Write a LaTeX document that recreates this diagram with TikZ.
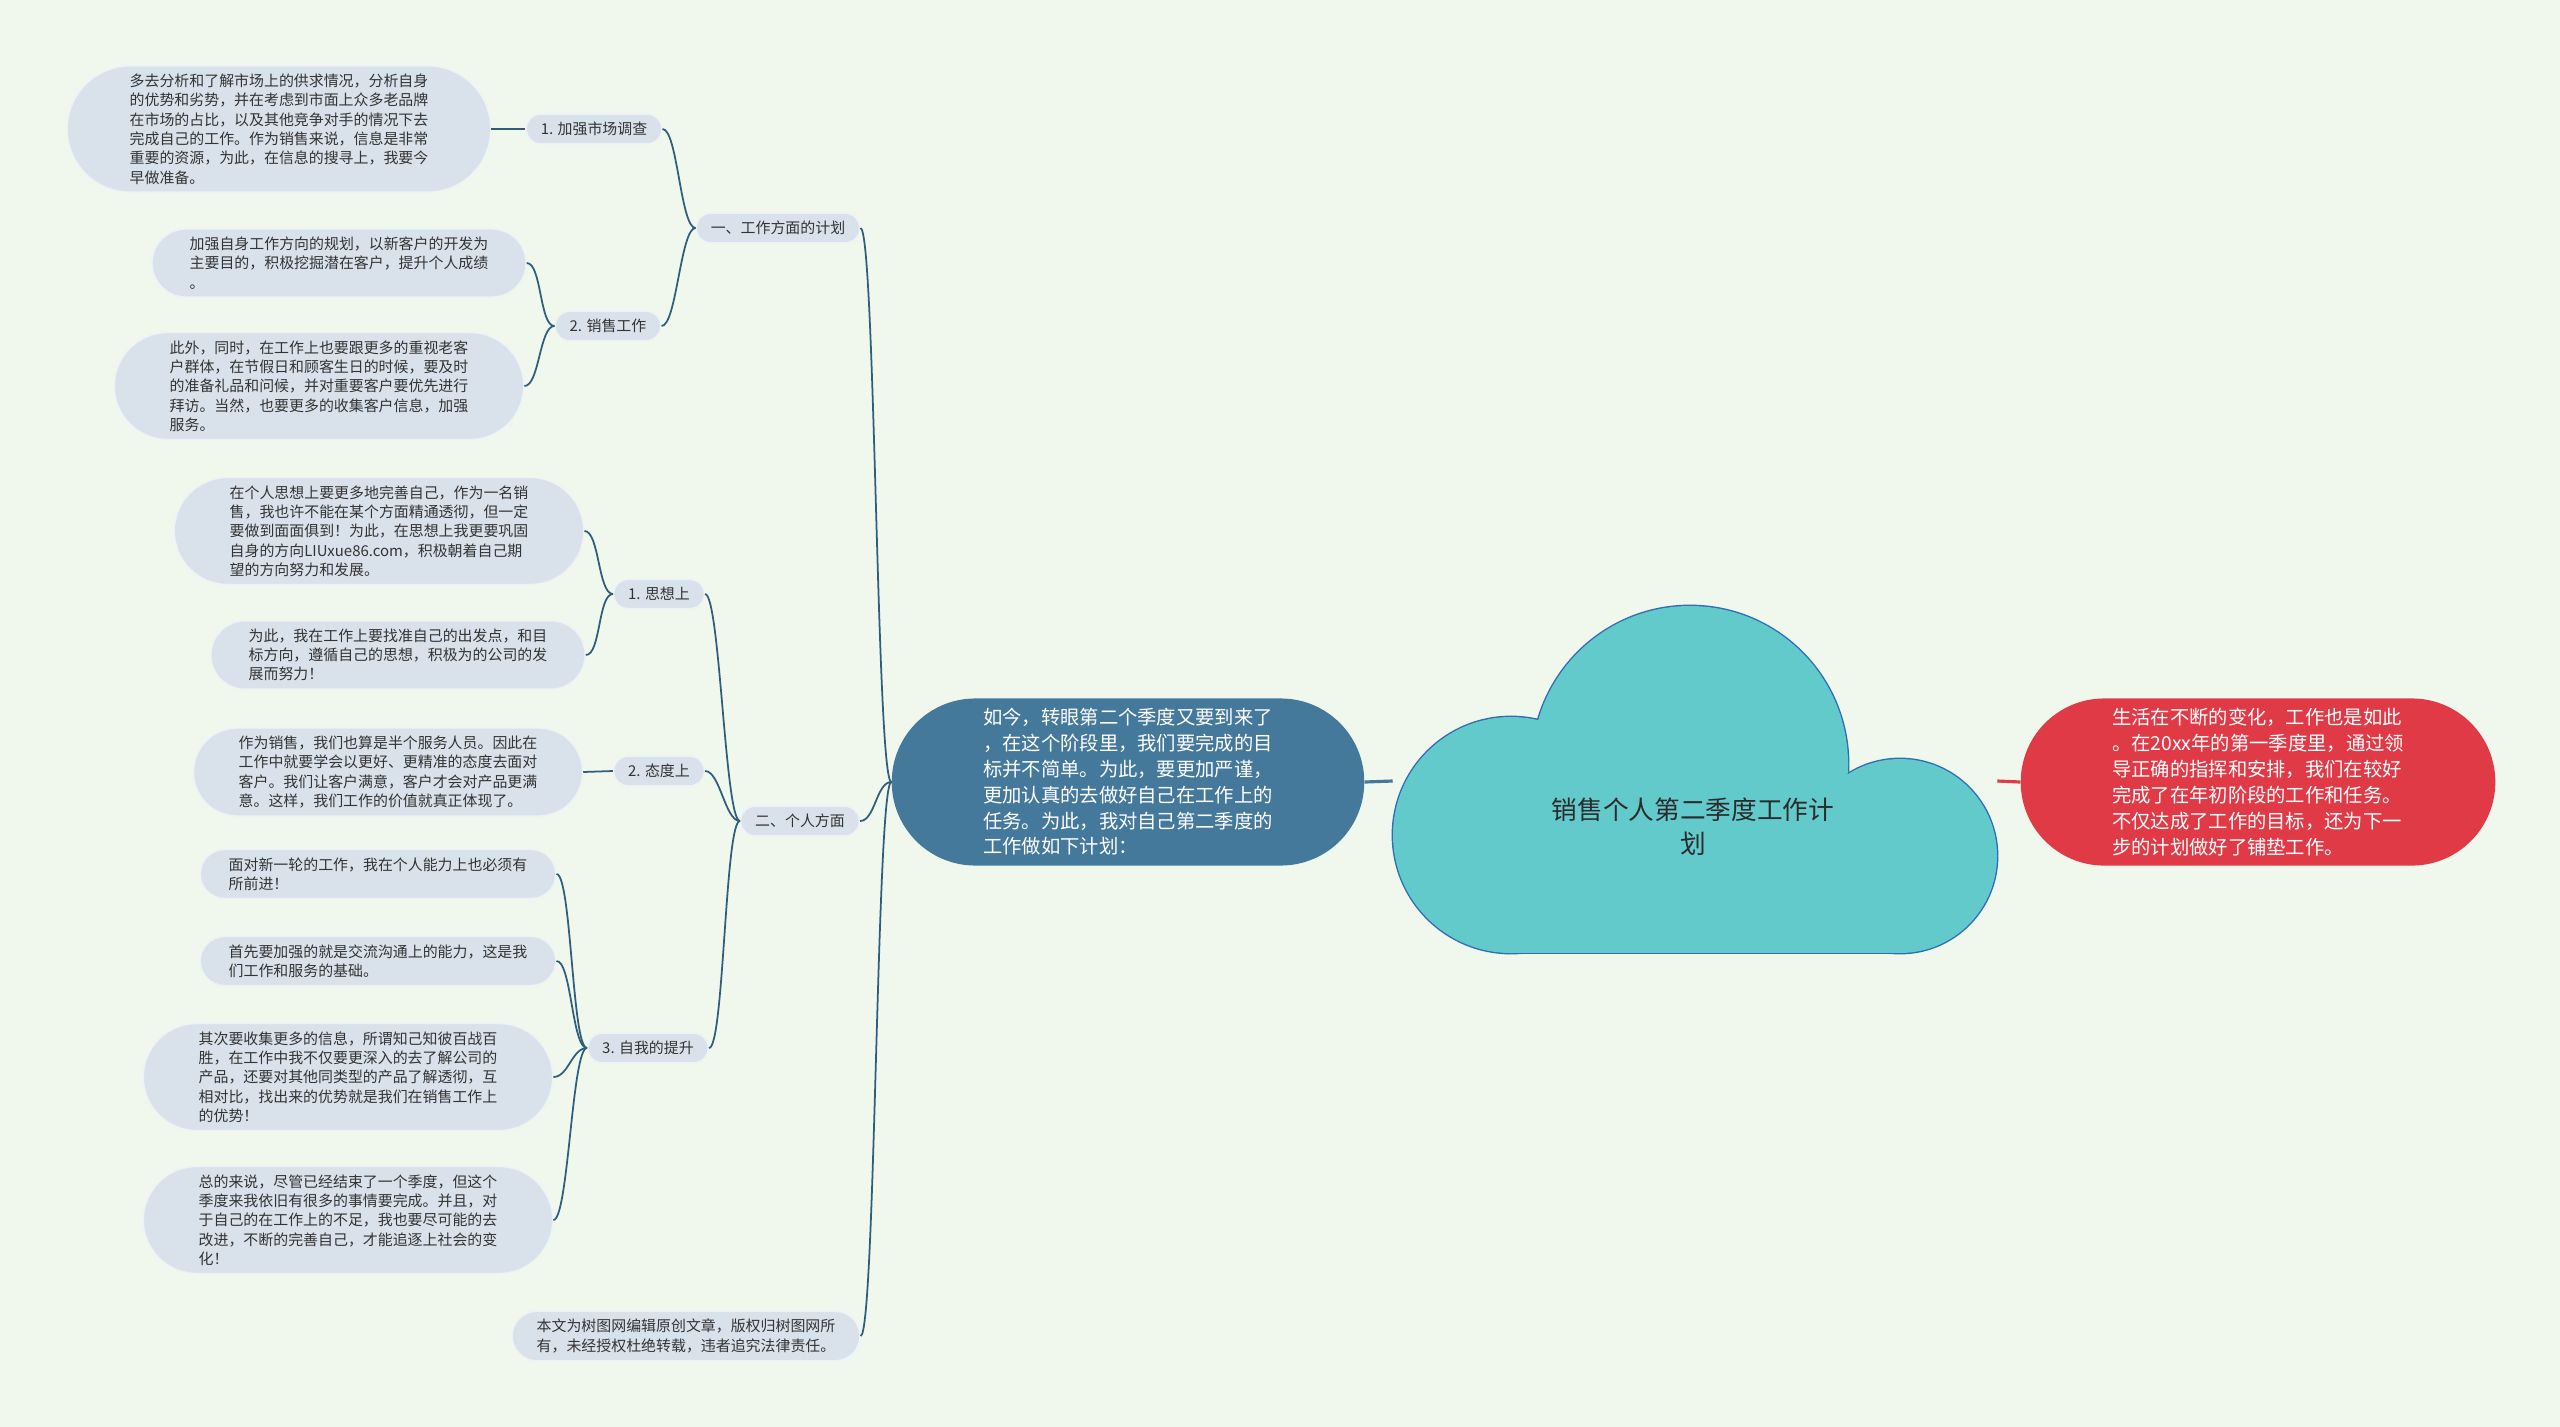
\documentclass[tikz,border=0pt]{standalone}
\usepackage{fontspec}
\setmainfont{Noto Sans CJK SC}
\usetikzlibrary{shapes.misc}
\definecolor{bgcol}{HTML}{F0F8EE}
\definecolor{leafcol}{HTML}{D9E2EB}
\definecolor{txtcol}{HTML}{333333}
\definecolor{linkcol}{HTML}{2F5D7C}
\definecolor{introcol}{HTML}{45799B}
\definecolor{sumcol}{HTML}{E03A47}
\definecolor{cloudcol}{HTML}{63CACC}
\definecolor{cloudline}{HTML}{2F6DB5}

\begin{document}
\begin{tikzpicture}[x=0.02cm,y=-0.02cm,
    leaf/.style={rounded rectangle,fill=leafcol,draw=white!55!leafcol,line width=0.8pt,
        text=txtcol,font=\fontsize{8.5}{11}\selectfont,align=left,inner xsep=17pt,inner ysep=4.5pt},
    short/.style={leaf,inner xsep=12.5pt},
    topic/.style={leaf,align=center,inner xsep=7.3pt},
    main/.style={rounded rectangle,text=white,font=\fontsize{11}{14.7}\selectfont,
        align=left,inner xsep=27pt,inner ysep=5.7pt},
    link/.style={draw=linkcol,line width=1pt},
    trunk/.style={line width=1.8pt},
    puff/.style={draw=cloudline,fill=cloudline,line width=1.6pt}]
    \fill[bgcol] (0,0) rectangle (2560,1427);

    \path[puff] (1690,764) circle (158);
    \path[puff] (1511,835) circle (118);
    \path[puff] (1900,856) circle (97);
    \path[puff] (1511,800) rectangle (1900,953);
    \fill[cloudcol] (1690,764) circle (158);
    \fill[cloudcol] (1511,835) circle (118);
    \fill[cloudcol] (1900,856) circle (97);
    \fill[cloudcol] (1511,800) rectangle (1900,953);
    \node[inner sep=0pt,minimum width=12.08cm,minimum height=6.88cm] (root) at (1695,781) {};
    \node[text=txtcol!85!black,font=\fontsize{14.6}{19.5}\selectfont,align=center] (title) at (1693,827) {销售个人第二季度工作计\\划};

    \node[main,fill=introcol] (intro) at (1128,782) {如今，转眼第二个季度又要到来了\\，在这个阶段里，我们要完成的目\\标并不简单。为此，要更加严谨，\\更加认真的去做好自己在工作上的\\任务。为此，我对自己第二季度的\\工作做如下计划：};
    \node[main,fill=sumcol] (summary) at (2258,782) {生活在不断的变化，工作也是如此\\。在20xx年的第一季度里，通过领\\导正确的指挥和安排，我们在较好\\完成了在年初阶段的工作和任务。\\不仅达成了工作的目标，还为下一\\步的计划做好了铺垫工作。};

    \node[topic] (work) at (778,228) {一、工作方面的计划};
    \node[topic] (personal) at (800,821) {二、个人方面};
    \node[leaf,inner xsep=10.2pt] (notice) at (686,1336) {本文为树图网编辑原创文章，版权归树图网所\\有，未经授权杜绝转载，违者追究法律责任。};

    \node[topic] (market) at (594,129) {1. 加强市场调查};
    \node[topic] (sales) at (608,326) {2. 销售工作};
    \node[topic] (thought) at (659,594) {1. 思想上};
    \node[topic] (attitude) at (659,771) {2. 态度上};
    \node[topic] (improve) at (648,1048) {3. 自我的提升};

    \node[leaf] (marketA) at (279,129) {多去分析和了解市场上的供求情况，分析自身\\的优势和劣势，并在考虑到市面上众多老品牌\\在市场的占比，以及其他竞争对手的情况下去\\完成自己的工作。作为销售来说，信息是非常\\重要的资源，为此，在信息的搜寻上，我要今\\早做准备。};
    \node[leaf,inner xsep=14.5pt] (salesA) at (339,263) {加强自身工作方向的规划，以新客户的开发为\\主要目的，积极挖掘潜在客户，提升个人成绩\\。};
    \node[leaf] (salesB) at (319,386) {此外，同时，在工作上也要跟更多的重视老客\\户群体，在节假日和顾客生日的时候，要及时\\的准备礼品和问候，并对重要客户要优先进行\\拜访。当然，也要更多的收集客户信息，加强\\服务。};
    \node[leaf] (thoughtA) at (379,531) {在个人思想上要更多地完善自己，作为一名销\\售，我也许不能在某个方面精通透彻，但一定\\要做到面面俱到！为此，在思想上我更要巩固\\自身的方向LIUxue86.com，积极朝着自己期\\望的方向努力和发展。};
    \node[leaf,inner xsep=14.5pt] (thoughtB) at (398,655) {为此，我在工作上要找准自己的出发点，和目\\标方向，遵循自己的思想，积极为的公司的发\\展而努力！};
    \node[leaf,inner xsep=15pt] (attitudeA) at (388,772) {作为销售，我们也算是半个服务人员。因此在\\工作中就要学会以更好、更精准的态度去面对\\客户。我们让客户满意，客户才会对产品更满\\意。这样，我们工作的价值就真正体现了。};
    \node[short] (improveA) at (378,874) {面对新一轮的工作，我在个人能力上也必须有\\所前进！};
    \node[short] (improveB) at (378,961) {首先要加强的就是交流沟通上的能力，这是我\\们工作和服务的基础。};
    \node[leaf] (improveC) at (348,1077) {其次要收集更多的信息，所谓知己知彼百战百\\胜，在工作中我不仅要更深入的去了解公司的\\产品，还要对其他同类型的产品了解透彻，互\\相对比，找出来的优势就是我们在销售工作上\\的优势！};
    \node[leaf] (improveD) at (348,1220) {总的来说，尽管已经结束了一个季度，但这个\\季度来我依旧有很多的事情要完成。并且，对\\于自己的在工作上的不足，我也要尽可能的去\\改进，不断的完善自己，才能追逐上社会的变\\化！};

    \draw[trunk,draw=introcol] (intro.east) -- (root.west);
    \draw[trunk,draw=sumcol] (root.east) -- (summary.west);

    \draw[link] (intro.west) .. controls +(-15,0) and +(15,0) .. (work.east);
    \draw[link] (intro.west) .. controls +(-15,0) and +(15,0) .. (personal.east);
    \draw[link] (intro.west) .. controls +(-15,0) and +(15,0) .. (notice.east);
    \draw[link] (work.west) .. controls +(-15,0) and +(15,0) .. (market.east);
    \draw[link] (work.west) .. controls +(-15,0) and +(15,0) .. (sales.east);
    \draw[link] (personal.west) .. controls +(-15,0) and +(15,0) .. (thought.east);
    \draw[link] (personal.west) .. controls +(-15,0) and +(15,0) .. (attitude.east);
    \draw[link] (personal.west) .. controls +(-15,0) and +(15,0) .. (improve.east);
    \draw[link] (market.west) -- (marketA.east);
    \draw[link] (sales.west) .. controls +(-15,0) and +(15,0) .. (salesA.east);
    \draw[link] (sales.west) .. controls +(-15,0) and +(15,0) .. (salesB.east);
    \draw[link] (thought.west) .. controls +(-15,0) and +(15,0) .. (thoughtA.east);
    \draw[link] (thought.west) .. controls +(-15,0) and +(15,0) .. (thoughtB.east);
    \draw[link] (attitude.west) -- (attitudeA.east);
    \draw[link] (improve.west) .. controls +(-15,0) and +(15,0) .. (improveA.east);
    \draw[link] (improve.west) .. controls +(-15,0) and +(15,0) .. (improveB.east);
    \draw[link] (improve.west) .. controls +(-15,0) and +(15,0) .. (improveC.east);
    \draw[link] (improve.west) .. controls +(-15,0) and +(15,0) .. (improveD.east);
\end{tikzpicture}
\end{document}
